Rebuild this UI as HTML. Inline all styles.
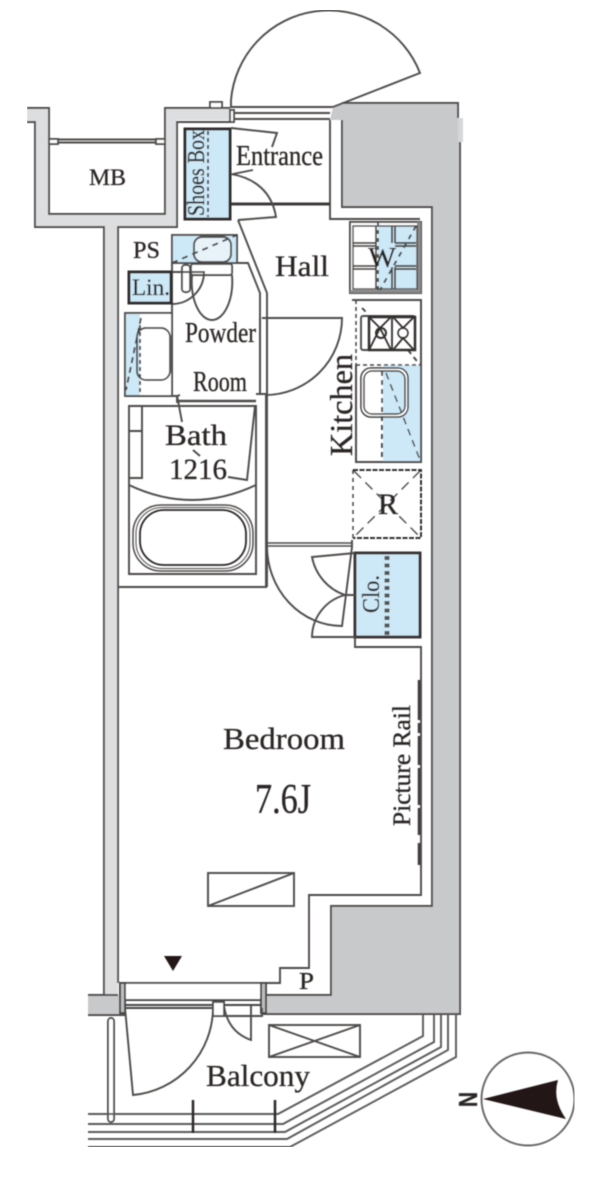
<!DOCTYPE html>
<html><head><meta charset="utf-8"><style>
html,body{margin:0;padding:0;background:#fff}
svg{display:block}
text{font-family:"Liberation Serif",serif;fill:#2a2725;stroke:#2a2725;stroke-width:.3px}
</style></head><body>
<svg width="600" height="1194" viewBox="0 0 600 1194" xmlns="http://www.w3.org/2000/svg">
<defs><filter id="b" x="0" y="0" width="100%" height="100%"><feGaussianBlur stdDeviation="0.45"/></filter></defs>
<rect width="600" height="1194" fill="#fff"/>
<g filter="url(#b)" fill="none" stroke="#4d4b4a" stroke-width="1.9">
<!-- walls -->
<path d="M27 108H49V214H165V108H230V120H177V227H118V995H104V227H35V122H27Z" fill="#dcdedf" stroke="none"/>
<path d="M27 108H49V214H165V108H230M27 122H35V227H104V995M230 122H177V227H118V983"/>
<rect x="210" y="102" width="12" height="6" fill="#fff"/>
<rect x="88" y="995" width="32" height="20" fill="#c8c9cb" stroke="none"/>
<path d="M88 995H118M88 1015H126"/>
<path d="M333 107L342 103H458V118H460V1014H265V995H331V906H432V207H342V120H330Z" fill="#c8c9cb" stroke="none"/>
<rect x="458" y="118" width="5" height="24" fill="#d6d7d8" stroke="none"/>
<path d="M342 120V207H432V906H331V995H265M342 103H458V118M460 142V1014H262"/>
<!-- MB -->
<path d="M49 139.500H165M49 142.500H165"/>
<rect x="49" y="139" width="9" height="5" fill="#fff"/><rect x="156" y="139" width="9" height="5" fill="#fff"/>
<!-- entrance door -->
<path d="M231 108V100A98 98 0 0 1 420 73L333 107" />
<path d="M231 107H333M231 113H330M231 119H330"/>
<rect x="230" y="110" width="4" height="12" fill="#fff"/>
<path d="M330 120V219H420"/>
<path d="M231 204H330" stroke="#3c3a38" stroke-width="3"/>
<!-- shoes box -->
<rect x="185" y="129" width="45" height="90" fill="#cde8f7" stroke="#332f2d" stroke-width="3"/>
<path d="M208 131V217" stroke-dasharray="4 3" stroke="#444"/>
<path d="M231 128L277 133L272 147M233 174L253 170M231 174C255 178 272 192 276 217L238 220"/>
<!-- powder -->
<path d="M238 220L267 293V394M237 263H248L260 293V394"/>
<path d="M260 317V394M267 317V394" stroke-width="2"/>
<path d="M172 263V395"/>
<rect x="172" y="235" width="65" height="28" fill="#cde8f7"/>
<rect x="194" y="237" width="37" height="25" rx="8" fill="#e8f3f9"/>
<path d="M172 263L237 235" stroke-dasharray="6 5" stroke="#444"/>
<rect x="191" y="264" width="41" height="11" rx="2" fill="#fff"/>
<path d="M192 275C190 300 200 320 212 320C224 320 234 300 232 275"/>
<rect x="182" y="265" width="8" height="27" rx="3" fill="#fff"/>
<path d="M172 272H204A32 32 0 0 1 172 304"/>
<rect x="129" y="272" width="42" height="31" fill="#cde8f7" stroke="#332f2d" stroke-width="3"/>
<!-- lower left unit -->
<rect x="125" y="313" width="47" height="83" fill="#fff"/>
<rect x="126" y="314" width="14" height="81" fill="#cde8f7" stroke="none"/>
<rect x="137" y="328" width="33" height="52" rx="9" fill="none"/>
<path d="M140 325V396" stroke-dasharray="4 3" stroke="#444" stroke-width="2"/>
<path d="M141 318L126 390" stroke-dasharray="6 4" stroke="#444"/>
<!-- bath -->
<path d="M125 396H177L180 395M172 396H177V403M256 394H266V587H118"/>
<path d="M129 406H256V574H129Z"/>
<path d="M177 401H256" stroke-width="2.500"/>
<path d="M129 406H142V478H129M129 431H142M129 485Q192 515 256 485"/>
<path d="M177 395L182 422M228 477L247 480L255 406M193 450L200 456"/>
<rect x="133" y="505" width="120" height="66" rx="28" stroke-width="1.500"/>
<rect x="136" y="507.500" width="114" height="61" rx="26" stroke-width="1"/>
<rect x="140" y="510" width="106" height="55" rx="24" stroke="#2a2725" stroke-width="1.800"/>
<!-- powder door -->
<path d="M262 318H342A77 77 0 0 1 265 395"/>
<!-- W -->
<rect x="350" y="222" width="71" height="71" stroke-width="2" fill="#fff"/>
<rect x="378" y="226" width="38" height="63" fill="#cde8f7" stroke="none"/>
<rect x="417" y="222" width="4" height="71" fill="#888" stroke="none"/>
<rect x="350" y="290" width="71" height="3" fill="#888" stroke="none"/>
<rect x="353" y="226" width="64" height="63" stroke-width="1.500"/>
<path d="M376 226V289M392 226V243M395 226V243M392 267V289M395 267V289M353 243H376M395 243H416M353 246H376M395 246H416M353 266H376M395 266H416M353 269H376M395 269H416"/>
<path d="M416 226L380 290" stroke-dasharray="5 5" stroke="#444"/>
<path d="M378 222V292" stroke-dasharray="4 4" stroke="#444"/>
<!-- kitchen -->
<path d="M352 300H421V462H356V365"/>
<rect x="383" y="365" width="38" height="97" fill="#cde8f7" stroke="none"/>
<path d="M421 300V462H356V365"/>
<path d="M356 300V365M356 365H421" stroke-dasharray="4 3" stroke="#444" stroke-width="1.500"/>
<path d="M362 308L367 313M408 350L420 365" stroke-dasharray="5 4" stroke="#444"/>
<rect x="361" y="316" width="54" height="34" rx="2"/>
<rect x="369" y="317" width="46" height="33" stroke="#332f2d" stroke-width="2.500"/>
<path d="M392 317V350M369 317L380 328L369 350M391 317L380 328L391 350M393 317L403 328L414 317M393 350L403 338L414 350" stroke="#332f2d" stroke-width="1.800"/>
<circle cx="381" cy="333" r="5" stroke="#332f2d" stroke-width="2"/>
<circle cx="403" cy="333" r="5" stroke="#332f2d" stroke-width="1.500"/>
<rect x="361" y="368" width="47" height="49" rx="10" fill="#fff" stroke="#332f2d" stroke-width="1.500"/>
<path d="M383 371H396Q405 371 405 380V405Q405 414 396 414H383Z" fill="#cde8f7" stroke="none"/>
<rect x="364" y="371" width="41" height="43" rx="8" stroke="#332f2d" stroke-width="1.500"/>
<path d="M382 371V462" stroke-dasharray="5 4" stroke="#444" stroke-width="2"/>
<path d="M386 373L420 460" stroke-dasharray="7 5" stroke="#444" stroke-width="1.500"/>
<!-- R -->
<path d="M353 470V538" stroke-dasharray="4 4" stroke="#444" stroke-width="1.500"/>
<path d="M353 470H421V538H353" stroke-dasharray="5 1.500" stroke="#333" stroke-width="2"/>
<path d="M354 471L420 537M420 471L354 537" stroke-dasharray="10 6" stroke="#444" stroke-width="1.300"/>
<!-- bedroom door, closet -->
<path d="M267 393V587"/>
<path d="M267 543H352M267 546H352" stroke-width="1.500"/>
<path d="M352 540V547L342 626A75 80 0 0 1 267 546"/>
<rect x="355" y="553" width="65" height="84" fill="#cde8f7" stroke="#3a3634" stroke-width="3"/>
<path d="M387 556V636" stroke="#555" stroke-width="5" stroke-dasharray="4 3.500"/>
<path d="M355 553L312 557A50 50 0 0 0 345 595H355M345 595A44 44 0 0 0 312 637H355"/>
<path d="M355 637V647H421V895H309V968H280V983H265"/>
<path d="M419 680V720M419 723V733M419 736V765M419 768V805M419 808V835M419 843V865" stroke="#3e3c3a" stroke-width="2.500"/>
<!-- AC -->
<rect x="208" y="873" width="86" height="33"/>
<path d="M208 906L294 873"/>
<!-- window -->
<rect x="120" y="983" width="145" height="17" fill="#fff"/>
<rect x="120" y="983" width="5" height="30" fill="#bdbdbd" stroke="#444"/>
<rect x="261" y="983" width="5" height="30" fill="#bdbdbd" stroke="#444"/>
<path d="M125 1000H262M125 1005H213M125 1008H213M224 1005H262" stroke="#444"/>
<rect x="213" y="1002" width="11" height="14" fill="#fff"/>
<path d="M224 1016H262V1008"/>
<path d="M125 1008L133 1095A88 88 0 0 0 213 1008"/>
<path d="M251 1005V1040Q228 1032 224 1006"/>
<rect x="108" y="1018" width="6" height="104" rx="3" fill="#fff"/>
<!-- outdoor unit -->
<rect x="269" y="1025" width="91" height="32"/>
<path d="M269 1025L360 1057M269 1057L360 1025"/>
<!-- balcony rails -->
<path d="M88 1114H278L423 1036V1014M88 1124H283L434 1042V1014M88 1132H285L441 1047V1014M88 1139H287L448 1050V1014M88 1147H290L456 1057V1014" stroke="#5a5a5a"/>
<path d="M193 1100V1133M275 1100V1133" stroke="#2a2725" stroke-width="2.500"/>
<!-- compass -->
<circle cx="528" cy="1099" r="46.500" stroke="#666"/>
<path d="M483 1099L558 1080Q552 1099 566 1119Z" fill="#231815" stroke="none"/>
<path d="M173 971L164 956H182Z" fill="#231815" stroke="none"/>

<g>
<text x="89" y="185" font-size="23" textLength="37" lengthAdjust="spacingAndGlyphs">MB</text>
<text x="236" y="165" font-size="28" textLength="87" lengthAdjust="spacingAndGlyphs">Entrance</text>
<text transform="translate(204 216) rotate(-90)" font-size="24" textLength="86" lengthAdjust="spacingAndGlyphs">Shoes Box</text>
<text x="133" y="258" font-size="24" textLength="27" lengthAdjust="spacingAndGlyphs">PS</text>
<text x="132" y="295" font-size="23" textLength="38" lengthAdjust="spacingAndGlyphs">Lin.</text>
<text x="275" y="276" font-size="30" textLength="54" lengthAdjust="spacingAndGlyphs">Hall</text>
<text x="185" y="342" font-size="28" textLength="71" lengthAdjust="spacingAndGlyphs">Powder</text>
<text x="193" y="391" font-size="28" textLength="54" lengthAdjust="spacingAndGlyphs">Room</text>
<text x="165" y="445" font-size="30" textLength="62" lengthAdjust="spacingAndGlyphs">Bath</text>
<text x="169" y="479" font-size="30" textLength="58" lengthAdjust="spacingAndGlyphs">1216</text>
<text x="368" y="267" font-size="28" textLength="28" lengthAdjust="spacingAndGlyphs">W</text>
<text transform="translate(352 456) rotate(-90)" font-size="32" textLength="102" lengthAdjust="spacingAndGlyphs">Kitchen</text>
<text x="378" y="514" font-size="30" textLength="20" lengthAdjust="spacingAndGlyphs">R</text>
<text transform="translate(379 613) rotate(-90)" font-size="24" textLength="38" lengthAdjust="spacingAndGlyphs">Clo.</text>
<text x="223" y="749" font-size="31" textLength="122" lengthAdjust="spacingAndGlyphs">Bedroom</text>
<text x="255" y="813" font-size="42" textLength="56" lengthAdjust="spacingAndGlyphs">7.6J</text>
<text transform="translate(410 826) rotate(-90)" font-size="25" textLength="121" lengthAdjust="spacingAndGlyphs">Picture Rail</text>
<text x="299" y="989" font-size="24" textLength="15" lengthAdjust="spacingAndGlyphs">P</text>
<text x="206" y="1086" font-size="31" textLength="104" lengthAdjust="spacingAndGlyphs">Balcony</text>
<text transform="translate(477 1107) rotate(-90)" font-size="26" font-weight="bold" textLength="15" lengthAdjust="spacingAndGlyphs" style="font-family:'Liberation Sans',sans-serif">N</text>
</g>
</g>
</svg>
</body></html>
